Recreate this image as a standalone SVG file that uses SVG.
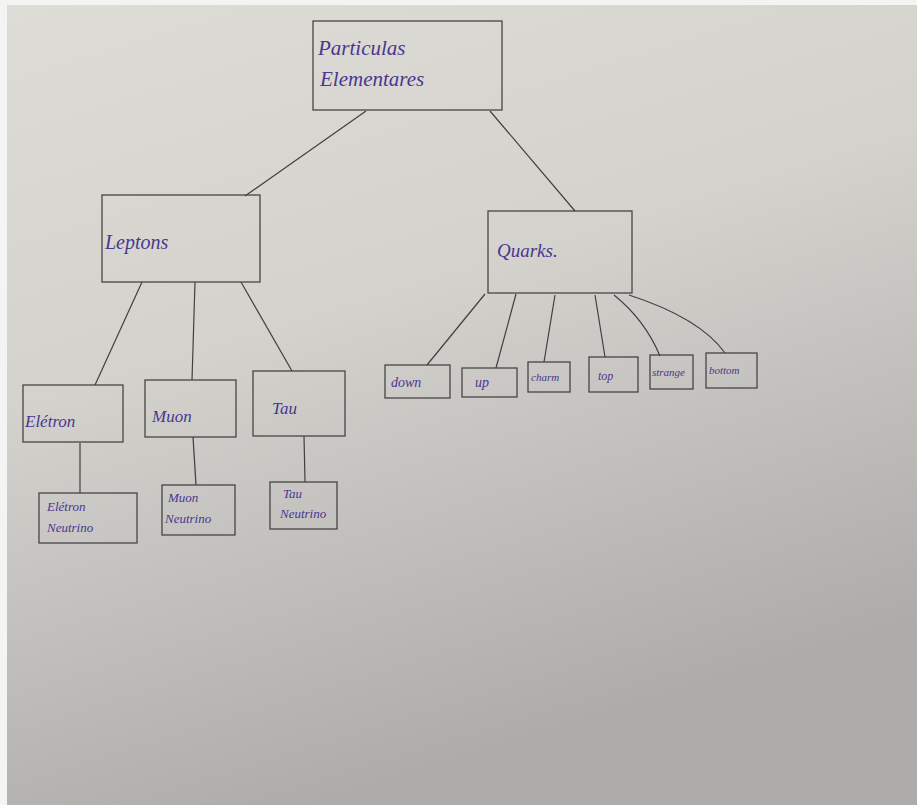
<svg xmlns="http://www.w3.org/2000/svg" width="917" height="805" viewBox="0 0 917 805">
<defs>
<linearGradient id="paper" x1="0" y1="0" x2="0.35" y2="1">
<stop offset="0" stop-color="#dedcd6"/>
<stop offset="0.45" stop-color="#d3d2cd"/>
<stop offset="1" stop-color="#adacaa"/>
</linearGradient>
<style>
.box{fill:none;stroke:#454545;stroke-width:1.3}
.ln{fill:none;stroke:#404040;stroke-width:1.2}
.t{font-family:"Liberation Serif",serif;font-style:italic;fill:#4a3690}
</style>
</defs>
<rect x="0" y="0" width="917" height="805" fill="#f4f4f2"/>
<rect x="7" y="5" width="910" height="800" fill="url(#paper)"/>
<g id="connectors">
<line class="ln" x1="366" y1="111" x2="245" y2="196"/>
<line class="ln" x1="490" y1="111" x2="575" y2="211"/>
<line class="ln" x1="142" y1="282" x2="95" y2="385"/>
<line class="ln" x1="195" y1="282" x2="192" y2="380"/>
<line class="ln" x1="241" y1="282" x2="292" y2="371"/>
<line class="ln" x1="80" y1="443" x2="80" y2="493"/>
<line class="ln" x1="193" y1="437" x2="196" y2="485"/>
<line class="ln" x1="304" y1="436" x2="305" y2="482"/>
<line class="ln" x1="485" y1="294" x2="427" y2="365"/>
<line class="ln" x1="516" y1="294" x2="496" y2="368"/>
<line class="ln" x1="555" y1="295" x2="544" y2="362"/>
<line class="ln" x1="595" y1="295" x2="605" y2="357"/>
<path class="ln" d="M614,295 Q645,320 660,356"/>
<path class="ln" d="M629,295 Q700,318 725,353"/>
</g>
<g id="particulas">
<rect class="box" x="313" y="21" width="189" height="89"/>
<text class="t" x="318" y="55" font-size="21">Particulas</text>
<text class="t" x="320" y="86" font-size="21">Elementares</text>
</g>
<g id="leptons">
<rect class="box" x="102" y="195" width="158" height="87"/>
<text class="t" x="105" y="249" font-size="20">Leptons</text>
</g>
<g id="quarks">
<rect class="box" x="488" y="211" width="144" height="82"/>
<text class="t" x="497" y="257" font-size="19">Quarks.</text>
</g>
<g id="eletron">
<rect class="box" x="23" y="385" width="100" height="57"/>
<text class="t" x="25" y="427" font-size="17">Elétron</text>
</g>
<g id="muon">
<rect class="box" x="145" y="380" width="91" height="57"/>
<text class="t" x="152" y="422" font-size="17">Muon</text>
</g>
<g id="tau">
<rect class="box" x="253" y="371" width="92" height="65"/>
<text class="t" x="272" y="414" font-size="17">Tau</text>
</g>
<g id="eletron-neutrino">
<rect class="box" x="39" y="493" width="98" height="50"/>
<text class="t" x="47" y="511" font-size="13">Elétron</text>
<text class="t" x="47" y="532" font-size="13">Neutrino</text>
</g>
<g id="muon-neutrino">
<rect class="box" x="162" y="485" width="73" height="50"/>
<text class="t" x="168" y="502" font-size="13">Muon</text>
<text class="t" x="165" y="523" font-size="13">Neutrino</text>
</g>
<g id="tau-neutrino">
<rect class="box" x="270" y="482" width="67" height="47"/>
<text class="t" x="283" y="498" font-size="13">Tau</text>
<text class="t" x="280" y="518" font-size="13">Neutrino</text>
</g>
<g id="down">
<rect class="box" x="385" y="365" width="65" height="33"/>
<text class="t" x="391" y="387" font-size="14">down</text>
</g>
<g id="up">
<rect class="box" x="462" y="368" width="55" height="29"/>
<text class="t" x="475" y="387" font-size="14">up</text>
</g>
<g id="charm">
<rect class="box" x="528" y="362" width="42" height="30"/>
<text class="t" x="531" y="381" font-size="11">charm</text>
</g>
<g id="top">
<rect class="box" x="589" y="357" width="49" height="35"/>
<text class="t" x="598" y="380" font-size="12">top</text>
</g>
<g id="strange">
<rect class="box" x="650" y="355" width="43" height="34"/>
<text class="t" x="652" y="376" font-size="11">strange</text>
</g>
<g id="bottom">
<rect class="box" x="706" y="353" width="51" height="35"/>
<text class="t" x="709" y="374" font-size="11">bottom</text>
</g>
</svg>
